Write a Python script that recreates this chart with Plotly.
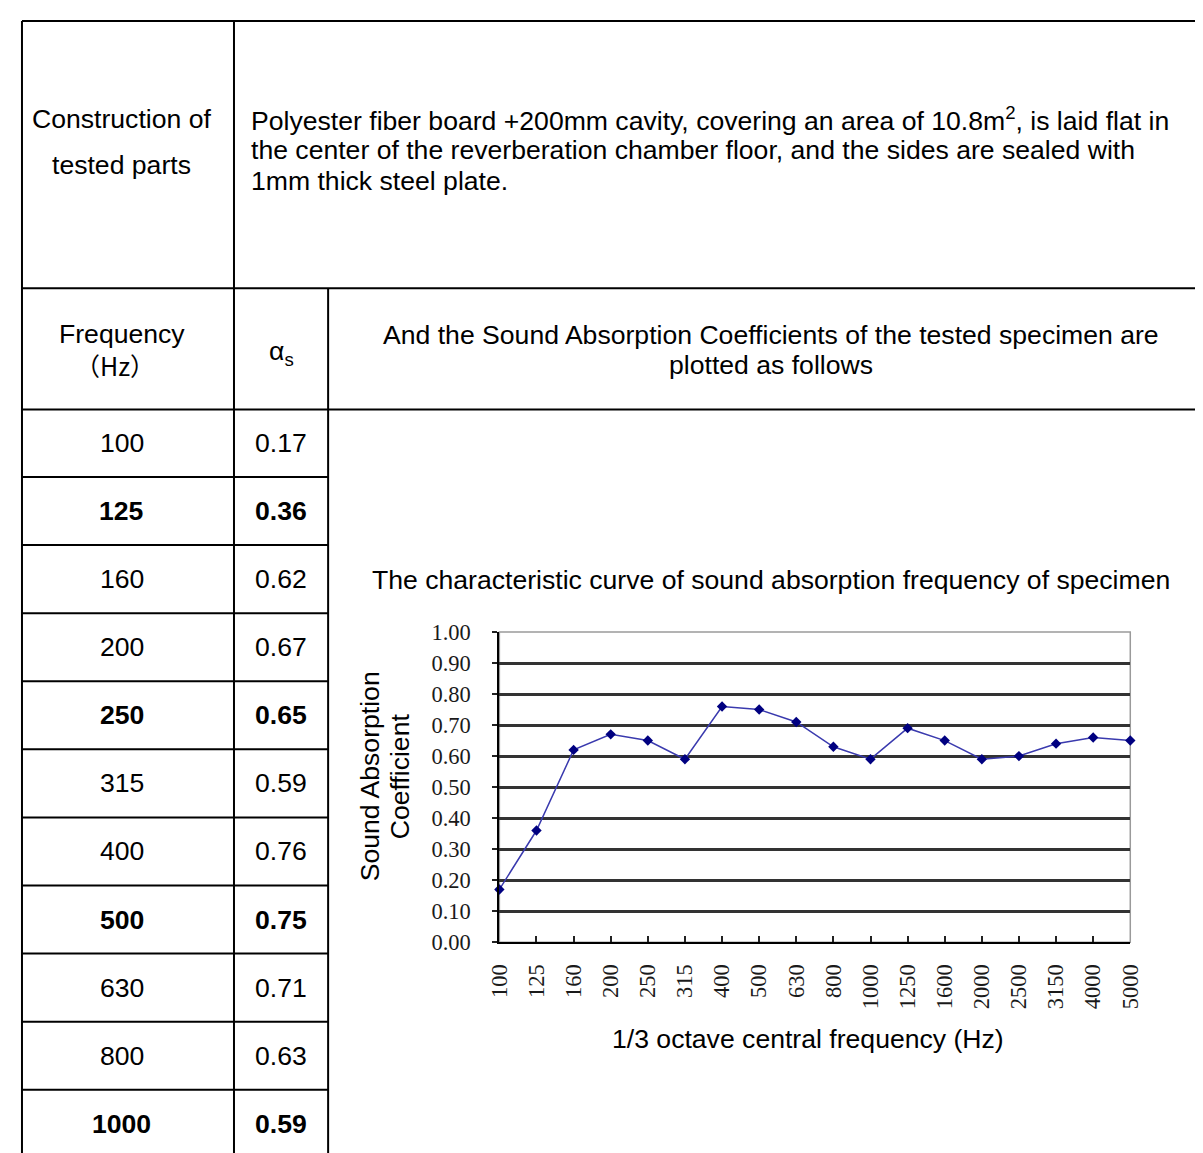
import plotly.graph_objects as go

# Layout coordinates below are given in reference-picture pixels and mapped onto the figure.
SCALE, SHIFT, BODY = 0.978, 11.5, 8
W, H = 1215, 1165

freq_labels = ["100", "125", "160", "200", "250", "315", "400", "500", "630", "800",
               "1000", "1250", "1600", "2000", "2500", "3150", "4000", "5000"]
alpha_values = [0.17, 0.36, 0.62, 0.67, 0.65, 0.59, 0.76, 0.75, 0.71, 0.63,
                0.59, 0.69, 0.65, 0.59, 0.60, 0.64, 0.66, 0.65]
bold_freqs = ["125", "250", "500", "1000"]
table_rows = 11  # rows visible in the table

construction_lines = ["Construction of", "tested parts"]
construction_text = ["Polyester fiber board +200mm cavity, covering an area of 10.8m<sup>2</sup>, is laid flat in",
                     "the center of the reverberation chamber floor, and the sides are sealed with",
                     "1mm thick steel plate."]
freq_header = ["Frequency", "（Hz）"]
alpha_header = "α<sub>s</sub>"
plot_header = ["And the Sound Absorption Coefficients of the tested specimen are", "plotted as follows"]
chart_title = "The characteristic curve of sound absorption frequency of specimen"
y_title = ["Sound Absorption", "Coefficient"]
x_title = "1/3 octave central frequency (Hz)"

SANS = "Liberation Sans, Arial, sans-serif"
CJK = "Noto Sans CJK SC"
SERIF = "Liberation Serif, Times New Roman, serif"
FS = 26.6


def fx(x):
    return max((x - SHIFT) / SCALE - BODY, 1.0)


def px(x):
    return fx(x) / W


def py(y):
    return 1 - fx(y) / H


fig = go.Figure()

fig.add_trace(go.Scatter(
    x=freq_labels, y=alpha_values, mode="lines+markers",
    line=dict(color="#3a3aae", width=1.5),
    marker=dict(symbol="diamond", size=8, color="#000080"),
    cliponaxis=False, showlegend=False, hoverinfo="x+y",
))

shapes = []


def hline(y, x0, x1, w=2):
    shapes.append(dict(type="line", xref="paper", yref="paper", x0=px(x0), x1=px(x1),
                       y0=py(y), y1=py(y), line=dict(color="black", width=w)))


def vline(x, y0, y1, w=2):
    shapes.append(dict(type="line", xref="paper", yref="paper", x0=px(x), x1=px(x),
                       y0=py(y0), y1=py(y1), line=dict(color="black", width=w)))


# table grid
row_top = 408
row_h = 68.05
hline(10, 9, 1240)
hline(287.5, 9, 1240)
hline(408.5, 9, 1240)
for i in range(1, table_rows + 1):
    hline(row_top + i * row_h, 9, 326)
vline(10, 9, 1200)
vline(232, 9, 1200)
vline(326, 288, 1200)

# plot frame (light)
shapes.append(dict(type="rect", xref="paper", yref="paper", x0=px(497), x1=px(1127),
                   y0=py(941), y1=py(631), line=dict(color="#9a9a9a", width=1.5), layer="below"))

annotations = []


def text(x, y, t, size=FS, xanchor="center", align="center", bold=False, font=SANS, angle=0):
    if bold:
        t = "<b>" + t + "</b>"
    annotations.append(dict(x=px(x), y=py(y), xref="paper", yref="paper", text=t,
                            showarrow=False, xanchor=xanchor, yanchor="middle", align=align,
                            textangle=angle,
                            font=dict(family=font, size=size, color="black")))


text(120, 118, construction_lines[0])
text(120, 164, construction_lines[1])
for i, ln in enumerate(construction_text):
    text(247, 118 + 31 * i, ln, xanchor="left", align="left")
text(120, 333, freq_header[0])
text(113, 364, freq_header[1], font=CJK, size=25)
text(279, 352, alpha_header)
text(768, 334, plot_header[0])
text(768, 364, plot_header[1])

for i in range(table_rows):
    cy = row_top + (i + 0.5) * row_h
    b = freq_labels[i] in bold_freqs
    text(120, cy, freq_labels[i], bold=b)
    text(279, cy, f"{alpha_values[i]:.2f}", bold=b)

text(768, 579, chart_title)
text(368, 775, y_title[0], angle=-90)
text(398, 775, y_title[1], angle=-90)
text(805, 1038, x_title)

fig.update_layout(
    width=W, height=H,
    margin=dict(l=0, r=0, t=0, b=0),
    paper_bgcolor="white", plot_bgcolor="white",
    shapes=shapes, annotations=annotations,
    xaxis=dict(domain=[px(497), px(1127)], type="category", range=[0, 17],
               showgrid=False, showline=True, linecolor="black", linewidth=2,
               ticks="inside", ticklen=6, tickcolor="#222", tickwidth=2,
               tickangle=-90, ticklabelstandoff=11,
               tickfont=dict(family=SERIF, size=22.5, color="#1a1a1a"),
               zeroline=False, fixedrange=True),
    yaxis=dict(domain=[py(941), py(631)], range=[0, 1], dtick=0.1, tickformat=".2f",
               showgrid=True, gridcolor="#333", gridwidth=2.5,
               showline=True, linecolor="black", linewidth=2,
               ticks="outside", ticklen=5, tickcolor="#222", tickwidth=2,
               ticklabelstandoff=17,
               tickfont=dict(family=SERIF, size=22.5, color="#1a1a1a"),
               zeroline=False, fixedrange=True),
)

fig.write_html("out.html")
